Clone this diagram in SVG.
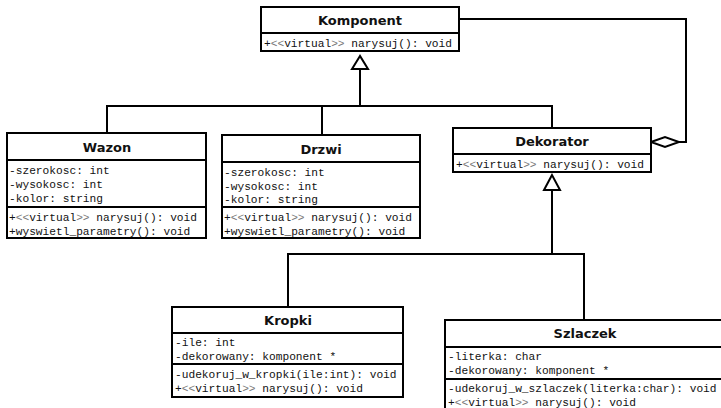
<svg xmlns="http://www.w3.org/2000/svg" width="721" height="408" viewBox="0 0 721 408">
  <style>
    .box { fill: #ffffff; stroke: #000000; stroke-width: 2; }
    .sep { stroke: #000000; stroke-width: 2; }
    .title { font-family: "DejaVu Sans", Verdana, sans-serif; font-weight: bold; font-size: 13px; fill: #111111; text-anchor: middle; }
    .member { font-family: "Liberation Mono", "Courier New", monospace; font-size: 11.2px; fill: #111111; }
    .st { fill: #777777; }
    .line { fill: none; stroke: #000000; stroke-width: 2; }
    .tri { fill: #ffffff; stroke: #000000; stroke-width: 2; }
  </style>

  <!-- connectors -->
  <g id="connectors">
    <!-- inheritance from Komponent -->
    <polyline class="line" points="360,69 360,106"/>
    <polyline class="line" points="107,133 107,106 552,106 552,128"/>
    <polyline class="line" points="322,106 322,135"/>
    <polygon class="tri" points="360,56 352,69 368,69"/>
    <!-- inheritance from Dekorator -->
    <polyline class="line" points="552,190 552,254"/>
    <polyline class="line" points="288,307 288,254 584,254 584,320"/>
    <polygon class="tri" points="552,175 544,190 560,190"/>
    <!-- aggregation Dekorator -> Komponent -->
    <polyline class="line" points="459,19 686,19 686,142 679,142"/>
    <polygon class="tri" points="651,142 665,137 679,142 665,147"/>
  </g>

  <g id="komponent">
    <rect class="box" x="261" y="7" width="198" height="44"/>
    <line class="sep" x1="261" y1="33" x2="459" y2="33"/>
    <text class="title" x="360" y="25">Komponent</text>
    <text class="member" x="264" y="47">+<tspan class="st">&lt;&lt;</tspan>virtual<tspan class="st">&gt;&gt;</tspan> narysuj(): void</text>
  </g>

  <g id="wazon">
    <rect class="box" x="7" y="133" width="199" height="105"/>
    <line class="sep" x1="7" y1="160" x2="206" y2="160"/>
    <line class="sep" x1="7" y1="207" x2="206" y2="207"/>
    <text class="title" x="107" y="152">Wazon</text>
    <text class="member" x="9" y="174">-szerokosc: int</text>
    <text class="member" x="9" y="188">-wysokosc: int</text>
    <text class="member" x="9" y="202">-kolor: string</text>
    <text class="member" x="9" y="221">+<tspan class="st">&lt;&lt;</tspan>virtual<tspan class="st">&gt;&gt;</tspan> narysuj(): void</text>
    <text class="member" x="9" y="235">+wyswietl_parametry(): void</text>
  </g>

  <g id="drzwi">
    <rect class="box" x="222" y="135" width="198" height="103"/>
    <line class="sep" x1="222" y1="162" x2="420" y2="162"/>
    <line class="sep" x1="222" y1="207" x2="420" y2="207"/>
    <text class="title" x="321" y="154">Drzwi</text>
    <text class="member" x="224" y="176">-szerokosc: int</text>
    <text class="member" x="224" y="190">-wysokosc: int</text>
    <text class="member" x="224" y="203">-kolor: string</text>
    <text class="member" x="224" y="221">+<tspan class="st">&lt;&lt;</tspan>virtual<tspan class="st">&gt;&gt;</tspan> narysuj(): void</text>
    <text class="member" x="224" y="235">+wyswietl_parametry(): void</text>
  </g>

  <g id="dekorator">
    <rect class="box" x="453" y="128" width="198" height="44"/>
    <line class="sep" x1="453" y1="154" x2="651" y2="154"/>
    <text class="title" x="552" y="146">Dekorator</text>
    <text class="member" x="456" y="168">+<tspan class="st">&lt;&lt;</tspan>virtual<tspan class="st">&gt;&gt;</tspan> narysuj(): void</text>
  </g>

  <g id="kropki">
    <rect class="box" x="172" y="307" width="231" height="90"/>
    <line class="sep" x1="172" y1="333" x2="403" y2="333"/>
    <line class="sep" x1="172" y1="364" x2="403" y2="364"/>
    <text class="title" x="288" y="325">Kropki</text>
    <text class="member" x="175" y="346">-ile: int</text>
    <text class="member" x="175" y="360">-dekorowany: komponent *</text>
    <text class="member" x="175" y="378">-udekoruj_w_kropki(ile:int): void</text>
    <text class="member" x="175" y="392">+<tspan class="st">&lt;&lt;</tspan>virtual<tspan class="st">&gt;&gt;</tspan> narysuj(): void</text>
  </g>

  <g id="szlaczek">
    <rect class="box" x="445" y="320" width="280" height="95"/>
    <line class="sep" x1="445" y1="347" x2="725" y2="347"/>
    <line class="sep" x1="445" y1="379" x2="725" y2="379"/>
    <text class="title" x="585" y="338">Szlaczek</text>
    <text class="member" x="448" y="360">-literka: char</text>
    <text class="member" x="448" y="374">-dekorowany: komponent *</text>
    <text class="member" x="448" y="392">-udekoruj_w_szlaczek(literka:char): void</text>
    <text class="member" x="448" y="406">+<tspan class="st">&lt;&lt;</tspan>virtual<tspan class="st">&gt;&gt;</tspan> narysuj(): void</text>
  </g>
</svg>
